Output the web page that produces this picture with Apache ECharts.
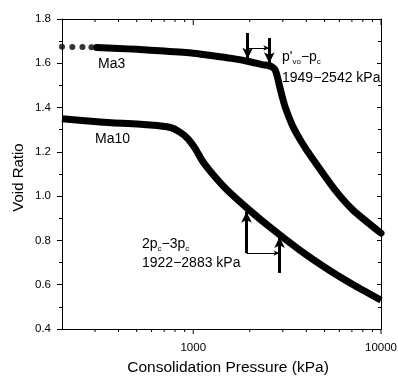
<!DOCTYPE html>
<html>
<head>
<meta charset="utf-8">
<script src="https://cdn.jsdelivr.net/npm/echarts@6/dist/echarts.min.js"></script>
<style>
  html, body { margin: 0; padding: 0; background: #fff; }
  #chart { width: 398px; height: 376px; }
</style>
</head>
<body>
<div id="chart"></div>
<script>
// Consolidation curves: void ratio vs. consolidation pressure (kPa, log scale)

// Ma3: sparse early readings (drawn as dots) and the dense remainder
var ma3Head = [[200, 1.675], [227, 1.674], [257, 1.673], [287, 1.672]];
var ma3Body = [
  [306, 1.671], [350, 1.669], [400, 1.667], [500, 1.663], [700, 1.655],
  [1000, 1.645], [1300, 1.633], [1600, 1.622], [2000, 1.607], [2328, 1.594],
  [2506, 1.590], [2631, 1.583], [2731, 1.570], [2798, 1.543], [2865, 1.506],
  [2972, 1.452], [3085, 1.403], [3404, 1.312], [3801, 1.240], [4296, 1.172],
  [5689, 1.028], [7094, 0.937], [10000, 0.833]
];

// Ma10
var ma10 = [
  [200, 1.350], [320, 1.335], [590, 1.321], [755, 1.310], [853, 1.288],
  [940, 1.258], [1025, 1.215], [1117, 1.160], [1277, 1.097], [1516, 1.028],
  [2010, 0.934], [2568, 0.859], [3707, 0.755], [5355, 0.663], [7273, 0.595],
  [10000, 0.530]
];

// Pressure ranges marked with arrows: [from kPa, to kPa]
var ma3Range = [1949, 2542];
var ma10Range = [1922, 2883];
// Void-ratio ends of each arrow [tail, head] and of the connector
var ma3ArrowE = { left: [1.737, 1.620], right: [1.714, 1.600], link: 1.669 };
var ma10ArrowE = { left: [0.743, 0.930], right: [0.653, 0.815], link: 0.743 };

// Axis tick values
var xMajor = [1000, 10000];
var xMinor = [300, 400, 500, 600, 700, 800, 900, 2000, 3000, 4000, 5000, 6000, 7000, 8000, 9000];
var xMin = 200, xMax = 10000;
var yMin = 0.4, yMax = 1.8, yStep = 0.2;

var FONT = 'Liberation Sans, Arial, Helvetica, sans-serif';
var BLACK = '#000';

function arrow(p, e, headSize, width) {
  return [
    { coord: [p, e[0]], symbol: 'none' },
    { coord: [p, e[1]], symbol: 'arrow', symbolSize: headSize, lineStyle: { width: width } }
  ];
}
function link(p0, p1, e) {
  return [
    { coord: [p0, e], symbol: 'none' },
    { coord: [p1, e], symbol: 'arrow', symbolSize: [4, 6] }
  ];
}

// Log-axis ticks on the bottom (outward) and top (inward) frame edges
function renderXTick(params, api) {
  var v = api.value(0);
  var cs = params.coordSys;
  var x = api.coord([v, yMin])[0];
  var major = xMajor.indexOf(v) >= 0;
  var bottom = cs.y + cs.height;
  var style = { stroke: BLACK, lineWidth: 1 };
  return {
    type: 'group',
    children: [
      { type: 'line', shape: { x1: x, y1: bottom, x2: x, y2: bottom + (major ? 5 : 3) }, style: style },
      { type: 'line', shape: { x1: x, y1: cs.y, x2: x, y2: cs.y + (major ? 6 : 3) }, style: style }
    ]
  };
}

var yTickStyle = { color: BLACK, width: 1 };

var chart = echarts.init(document.getElementById('chart'), null, { renderer: 'canvas' });

var option = {
  animation: false,
  backgroundColor: '#fff',
  grid: { left: 62, right: 17, top: 19, bottom: 47, outerBoundsMode: 'none' },
  xAxis: [
    {
      type: 'log', logBase: 10, min: xMin, max: xMax, position: 'bottom',
      axisLine: { show: true, onZero: false, lineStyle: { color: BLACK, width: 1 } },
      axisTick: { show: false },
      axisLabel: {
        color: BLACK, fontFamily: FONT, fontSize: 11.5, margin: 13,
        formatter: function (v) { return xMajor.indexOf(v) >= 0 ? String(v) : ''; }
      },
      splitLine: { show: false },
      name: 'Consolidation Pressure (kPa)', nameLocation: 'middle', nameGap: 31,
      nameMoveOverlap: false,
      nameTextStyle: { color: BLACK, fontFamily: FONT, fontSize: 15.5, padding: [0, 0, 0, 13] }
    },
    {
      type: 'log', logBase: 10, min: xMin, max: xMax, position: 'top',
      axisLine: { show: true, onZero: false, lineStyle: { color: BLACK, width: 1 } },
      axisTick: { show: false },
      axisLabel: { show: false },
      splitLine: { show: false }
    }
  ],
  yAxis: [
    {
      type: 'value', min: yMin, max: yMax, interval: yStep, position: 'left',
      axisLine: { show: true, onZero: false, lineStyle: { color: BLACK, width: 1 } },
      axisTick: { show: true, length: 5, inside: false, lineStyle: yTickStyle },
      minorTick: { show: true, splitNumber: 2, length: 3, lineStyle: yTickStyle },
      axisLabel: {
        color: BLACK, fontFamily: FONT, fontSize: 11.5, margin: 11,
        formatter: function (v) { return v.toFixed(1); }
      },
      splitLine: { show: false },
      name: 'Void Ratio', nameLocation: 'middle', nameGap: 36,
      nameMoveOverlap: false,
      nameTextStyle: { color: BLACK, fontFamily: FONT, fontSize: 15, padding: [0, 7, 0, 0] }
    },
    {
      type: 'value', min: yMin, max: yMax, interval: yStep, position: 'right',
      axisLine: { show: true, onZero: false, lineStyle: { color: BLACK, width: 1 } },
      axisTick: { show: true, length: 4, inside: true, lineStyle: yTickStyle },
      minorTick: { show: true, splitNumber: 2, length: 3, lineStyle: yTickStyle },
      axisLabel: { show: false },
      splitLine: { show: false }
    }
  ],
  series: [
    {
      name: 'Ma3', type: 'line', data: ma3Body,
      showSymbol: false, symbol: 'none', smooth: 0.2,
      lineStyle: { color: BLACK, width: 7, cap: 'round', join: 'round' },
      markLine: {
        silent: true, animation: false,
        label: { show: false },
        lineStyle: { color: BLACK, type: 'solid', width: 1 },
        emphasis: { disabled: true },
        data: [
          arrow(ma3Range[0], ma3ArrowE.left, [8, 11], 3),
          arrow(ma3Range[1], ma3ArrowE.right, [8, 11], 3),
          link(ma3Range[0], ma3Range[1], ma3ArrowE.link),
          arrow(ma10Range[0], ma10ArrowE.left, [8, 11], 3),
          arrow(ma10Range[1], ma10ArrowE.right, [8, 11], 3),
          link(ma10Range[0], ma10Range[1], ma10ArrowE.link)
        ]
      }
    },
    {
      name: 'Ma3', type: 'scatter', data: ma3Head,
      symbol: 'circle', symbolSize: 6, itemStyle: { color: BLACK }
    },
    {
      name: 'Ma10', type: 'line', data: ma10,
      showSymbol: false, symbol: 'none', smooth: 0.2,
      lineStyle: { color: BLACK, width: 7, cap: 'butt', join: 'round' }
    },
    {
      type: 'custom', silent: true, clip: false,
      data: xMajor.concat(xMinor).map(function (v) { return [v]; }),
      encode: { x: 0 },
      renderItem: renderXTick
    }
  ],
  graphic: [
    { type: 'text', left: 98, top: 57, style: { text: 'Ma3', font: '14px ' + FONT, fill: BLACK } },
    { type: 'text', left: 95, top: 132, style: { text: 'Ma10', font: '14px ' + FONT, fill: BLACK } },
    {
      type: 'text', left: 282, top: 50,
      style: {
        text: "{n|p'}{s|vo}{n|\u2212p}{s|c}", fill: BLACK,
        rich: {
          n: { fontSize: 14, fontFamily: FONT, lineHeight: 18 },
          s: { fontSize: 8, fontFamily: FONT, verticalAlign: 'bottom' }
        }
      }
    },
    { type: 'text', left: 282, top: 71, style: { text: '1949\u22122542 kPa', font: '14px ' + FONT, fill: BLACK } },
    {
      type: 'text', left: 142, top: 237,
      style: {
        text: '{n|2p}{s|c}{n|\u22123p}{s|c}', fill: BLACK,
        rich: {
          n: { fontSize: 14, fontFamily: FONT, lineHeight: 18 },
          s: { fontSize: 8, fontFamily: FONT, verticalAlign: 'bottom' }
        }
      }
    },
    { type: 'text', left: 142, top: 256, style: { text: '1922\u22122883 kPa', font: '14px ' + FONT, fill: BLACK } }
  ]
};

chart.setOption(option);
</script>
</body>
</html>
